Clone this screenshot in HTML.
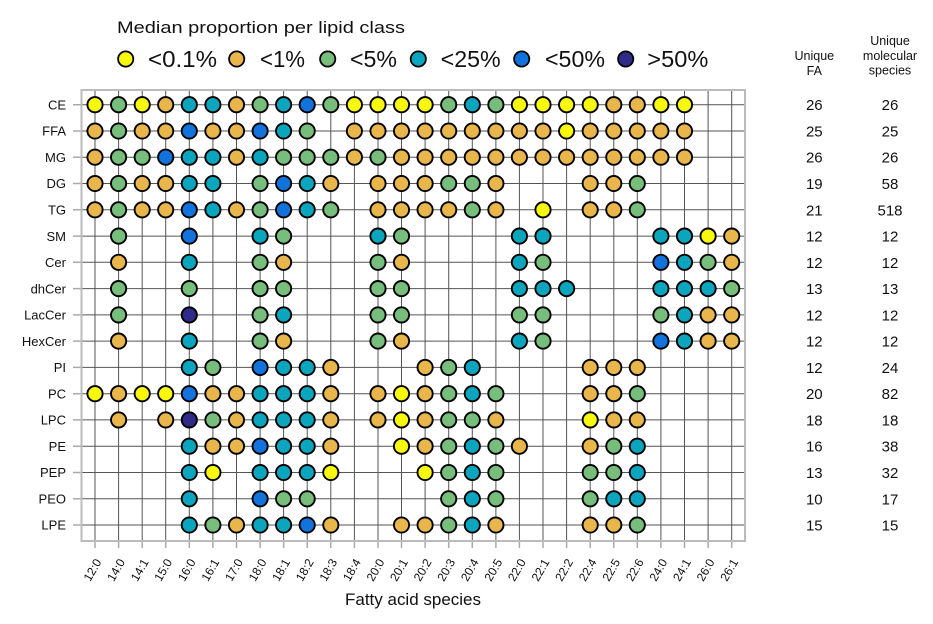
<!DOCTYPE html>
<html><head><meta charset="utf-8"><style>
html,body{margin:0;padding:0;background:#fff;}
svg{display:block;font-family:"Liberation Sans",Arial,sans-serif;}
.Y{fill:#F8F80C}.O{fill:#E8B64B}.G{fill:#77BE7D}.T{fill:#0BA6BE}.B{fill:#1273DC}.N{fill:#302A88}
.d circle{stroke:#000;stroke-width:1.9}
.lg circle{stroke:#000;stroke-width:1.8}
</style></head><body>
<svg width="933" height="624" viewBox="0 0 933 624" xmlns="http://www.w3.org/2000/svg">
<rect width="933" height="624" fill="#fff"/>
<!-- legend -->
<text x="117" y="33" font-size="17" fill="#111" textLength="288" lengthAdjust="spacingAndGlyphs">Median proportion per lipid class</text>
<g class="lg">
<circle cx="125.7" cy="59" r="7.6" class="Y"/>
<circle cx="236.7" cy="59" r="7.6" class="O"/>
<circle cx="327.7" cy="59" r="7.6" class="G"/>
<circle cx="418.3" cy="59" r="7.6" class="T"/>
<circle cx="521.7" cy="59" r="7.6" class="B"/>
<circle cx="625.7" cy="59" r="7.6" class="N"/>
</g>
<g font-size="23" fill="#111">
<text x="148" y="67" textLength="69" lengthAdjust="spacingAndGlyphs">&lt;0.1%</text>
<text x="260" y="67" textLength="45" lengthAdjust="spacingAndGlyphs">&lt;1%</text>
<text x="350" y="67" textLength="47" lengthAdjust="spacingAndGlyphs">&lt;5%</text>
<text x="440.7" y="67" textLength="60" lengthAdjust="spacingAndGlyphs">&lt;25%</text>
<text x="545" y="67" textLength="60" lengthAdjust="spacingAndGlyphs">&lt;50%</text>
<text x="647.3" y="67" textLength="61" lengthAdjust="spacingAndGlyphs">&gt;50%</text>
</g>
<!-- right headers -->
<g font-size="12.5" fill="#111" text-anchor="middle">
<text x="814.3" y="60">Unique</text>
<text x="814.3" y="75">FA</text>
<text x="890" y="45">Unique</text>
<text x="890" y="60">molecular</text>
<text x="890" y="74.5">species</text>
</g>
<!-- grid -->
<path fill="none" stroke="#555" stroke-width="1" d="M95 90V541M118.6 90V541M142.2 90V541M165.7 90V541M189.3 90V541M212.9 90V541M236.5 90V541M260.1 90V541M283.6 90V541M307.2 90V541M330.8 90V541M354.4 90V541M378 90V541M401.5 90V541M425.1 90V541M448.7 90V541M472.3 90V541M495.9 90V541M519.4 90V541M543 90V541M566.6 90V541M590.2 90V541M613.8 90V541M637.3 90V541M660.9 90V541M684.5 90V541M708.1 90V541M731.7 90V541
M81 104.7H745M81 131H745M81 157.2H745M81 183.5H745M81 209.8H745M81 236.1H745M81 262.3H745M81 288.6H745M81 314.9H745M81 341.1H745M81 367.4H745M81 393.7H745M81 419.9H745M81 446.2H745M81 472.5H745M81 498.8H745M81 525H745"/>
<!-- ticks -->
<path fill="none" stroke="#aaa" stroke-width="1.5" d="M95 541V548M118.6 541V548M142.2 541V548M165.7 541V548M189.3 541V548M212.9 541V548M236.5 541V548M260.1 541V548M283.6 541V548M307.2 541V548M330.8 541V548M354.4 541V548M378 541V548M401.5 541V548M425.1 541V548M448.7 541V548M472.3 541V548M495.9 541V548M519.4 541V548M543 541V548M566.6 541V548M590.2 541V548M613.8 541V548M637.3 541V548M660.9 541V548M684.5 541V548M708.1 541V548M731.7 541V548
M73 104.7H81M73 131H81M73 157.2H81M73 183.5H81M73 209.8H81M73 236.1H81M73 262.3H81M73 288.6H81M73 314.9H81M73 341.1H81M73 367.4H81M73 393.7H81M73 419.9H81M73 446.2H81M73 472.5H81M73 498.8H81M73 525H81"/>
<rect x="81.5" y="90" width="663.5" height="451" fill="none" stroke="#bbb" stroke-width="2"/>
<!-- y labels -->
<g font-size="13" fill="#111" text-anchor="end">
<text x="66" y="109.4">CE</text>
<text x="66" y="135.7">FFA</text>
<text x="66" y="161.9">MG</text>
<text x="66" y="188.2">DG</text>
<text x="66" y="214.5">TG</text>
<text x="66" y="240.8">SM</text>
<text x="66" y="267">Cer</text>
<text x="66" y="293.3">dhCer</text>
<text x="66" y="319.6">LacCer</text>
<text x="66" y="345.8">HexCer</text>
<text x="66" y="372.1">PI</text>
<text x="66" y="398.4">PC</text>
<text x="66" y="424.6">LPC</text>
<text x="66" y="450.9">PE</text>
<text x="66" y="477.2">PEP</text>
<text x="66" y="503.5">PEO</text>
<text x="66" y="529.7">LPE</text>
</g>
<!-- right numbers -->
<g font-size="15" fill="#111" text-anchor="middle">
<text x="814.3" y="110.2">26</text><text x="890" y="110.2">26</text>
<text x="814.3" y="136.5">25</text><text x="890" y="136.5">25</text>
<text x="814.3" y="162.7">26</text><text x="890" y="162.7">26</text>
<text x="814.3" y="189">19</text><text x="890" y="189">58</text>
<text x="814.3" y="215.3">21</text><text x="890" y="215.3">518</text>
<text x="814.3" y="241.6">12</text><text x="890" y="241.6">12</text>
<text x="814.3" y="267.8">12</text><text x="890" y="267.8">12</text>
<text x="814.3" y="294.1">13</text><text x="890" y="294.1">13</text>
<text x="814.3" y="320.4">12</text><text x="890" y="320.4">12</text>
<text x="814.3" y="346.6">12</text><text x="890" y="346.6">12</text>
<text x="814.3" y="372.9">12</text><text x="890" y="372.9">24</text>
<text x="814.3" y="399.2">20</text><text x="890" y="399.2">82</text>
<text x="814.3" y="425.4">18</text><text x="890" y="425.4">18</text>
<text x="814.3" y="451.7">16</text><text x="890" y="451.7">38</text>
<text x="814.3" y="478">13</text><text x="890" y="478">32</text>
<text x="814.3" y="504.3">10</text><text x="890" y="504.3">17</text>
<text x="814.3" y="530.5">15</text><text x="890" y="530.5">15</text>
</g>
<!-- x labels -->
<g font-size="12" fill="#111" text-anchor="middle">
<text x="96" y="572" transform="rotate(-60 96 572)">12:0</text>
<text x="119.6" y="572" transform="rotate(-60 119.6 572)">14:0</text>
<text x="143.2" y="572" transform="rotate(-60 143.2 572)">14:1</text>
<text x="166.7" y="572" transform="rotate(-60 166.7 572)">15:0</text>
<text x="190.3" y="572" transform="rotate(-60 190.3 572)">16:0</text>
<text x="213.9" y="572" transform="rotate(-60 213.9 572)">16:1</text>
<text x="237.5" y="572" transform="rotate(-60 237.5 572)">17:0</text>
<text x="261.1" y="572" transform="rotate(-60 261.1 572)">18:0</text>
<text x="284.6" y="572" transform="rotate(-60 284.6 572)">18:1</text>
<text x="308.2" y="572" transform="rotate(-60 308.2 572)">18:2</text>
<text x="331.8" y="572" transform="rotate(-60 331.8 572)">18:3</text>
<text x="355.4" y="572" transform="rotate(-60 355.4 572)">18:4</text>
<text x="379" y="572" transform="rotate(-60 379 572)">20:0</text>
<text x="402.5" y="572" transform="rotate(-60 402.5 572)">20:1</text>
<text x="426.1" y="572" transform="rotate(-60 426.1 572)">20:2</text>
<text x="449.7" y="572" transform="rotate(-60 449.7 572)">20:3</text>
<text x="473.3" y="572" transform="rotate(-60 473.3 572)">20:4</text>
<text x="496.9" y="572" transform="rotate(-60 496.9 572)">20:5</text>
<text x="520.4" y="572" transform="rotate(-60 520.4 572)">22:0</text>
<text x="544" y="572" transform="rotate(-60 544 572)">22:1</text>
<text x="567.6" y="572" transform="rotate(-60 567.6 572)">22:2</text>
<text x="591.2" y="572" transform="rotate(-60 591.2 572)">22:4</text>
<text x="614.8" y="572" transform="rotate(-60 614.8 572)">22:5</text>
<text x="638.3" y="572" transform="rotate(-60 638.3 572)">22:6</text>
<text x="661.9" y="572" transform="rotate(-60 661.9 572)">24:0</text>
<text x="685.5" y="572" transform="rotate(-60 685.5 572)">24:1</text>
<text x="709.1" y="572" transform="rotate(-60 709.1 572)">26:0</text>
<text x="732.7" y="572" transform="rotate(-60 732.7 572)">26:1</text>
</g>
<text x="413" y="605" font-size="16.5" fill="#111" text-anchor="middle" textLength="136" lengthAdjust="spacingAndGlyphs">Fatty acid species</text>
<!-- dots -->
<g class="d">
<g transform="translate(0,104.7)">
<circle cx="95" r="7.6" class="Y"/><circle cx="118.6" r="7.6" class="G"/><circle cx="142.2" r="7.6" class="Y"/><circle cx="165.7" r="7.6" class="O"/><circle cx="189.3" r="7.6" class="T"/><circle cx="212.9" r="7.6" class="T"/><circle cx="236.5" r="7.6" class="O"/><circle cx="260.1" r="7.6" class="G"/><circle cx="283.6" r="7.6" class="T"/><circle cx="307.2" r="7.6" class="B"/><circle cx="330.8" r="7.6" class="G"/><circle cx="354.4" r="7.6" class="Y"/><circle cx="378" r="7.6" class="Y"/><circle cx="401.5" r="7.6" class="Y"/><circle cx="425.1" r="7.6" class="Y"/><circle cx="448.7" r="7.6" class="G"/><circle cx="472.3" r="7.6" class="T"/><circle cx="495.9" r="7.6" class="G"/><circle cx="519.4" r="7.6" class="Y"/><circle cx="543" r="7.6" class="Y"/><circle cx="566.6" r="7.6" class="Y"/><circle cx="590.2" r="7.6" class="Y"/><circle cx="613.8" r="7.6" class="O"/><circle cx="637.3" r="7.6" class="O"/><circle cx="660.9" r="7.6" class="Y"/><circle cx="684.5" r="7.6" class="Y"/>
</g>
<g transform="translate(0,131)">
<circle cx="95" r="7.6" class="O"/><circle cx="118.6" r="7.6" class="G"/><circle cx="142.2" r="7.6" class="O"/><circle cx="165.7" r="7.6" class="O"/><circle cx="189.3" r="7.6" class="B"/><circle cx="212.9" r="7.6" class="O"/><circle cx="236.5" r="7.6" class="O"/><circle cx="260.1" r="7.6" class="B"/><circle cx="283.6" r="7.6" class="T"/><circle cx="307.2" r="7.6" class="G"/><circle cx="354.4" r="7.6" class="O"/><circle cx="378" r="7.6" class="O"/><circle cx="401.5" r="7.6" class="O"/><circle cx="425.1" r="7.6" class="O"/><circle cx="448.7" r="7.6" class="O"/><circle cx="472.3" r="7.6" class="O"/><circle cx="495.9" r="7.6" class="O"/><circle cx="519.4" r="7.6" class="O"/><circle cx="543" r="7.6" class="O"/><circle cx="566.6" r="7.6" class="Y"/><circle cx="590.2" r="7.6" class="O"/><circle cx="613.8" r="7.6" class="O"/><circle cx="637.3" r="7.6" class="O"/><circle cx="660.9" r="7.6" class="O"/><circle cx="684.5" r="7.6" class="O"/>
</g>
<g transform="translate(0,157.2)">
<circle cx="95" r="7.6" class="O"/><circle cx="118.6" r="7.6" class="G"/><circle cx="142.2" r="7.6" class="G"/><circle cx="165.7" r="7.6" class="B"/><circle cx="189.3" r="7.6" class="T"/><circle cx="212.9" r="7.6" class="T"/><circle cx="236.5" r="7.6" class="O"/><circle cx="260.1" r="7.6" class="T"/><circle cx="283.6" r="7.6" class="G"/><circle cx="307.2" r="7.6" class="G"/><circle cx="330.8" r="7.6" class="G"/><circle cx="354.4" r="7.6" class="O"/><circle cx="378" r="7.6" class="G"/><circle cx="401.5" r="7.6" class="O"/><circle cx="425.1" r="7.6" class="O"/><circle cx="448.7" r="7.6" class="O"/><circle cx="472.3" r="7.6" class="O"/><circle cx="495.9" r="7.6" class="O"/><circle cx="519.4" r="7.6" class="O"/><circle cx="543" r="7.6" class="O"/><circle cx="566.6" r="7.6" class="O"/><circle cx="590.2" r="7.6" class="O"/><circle cx="613.8" r="7.6" class="O"/><circle cx="637.3" r="7.6" class="O"/><circle cx="660.9" r="7.6" class="O"/><circle cx="684.5" r="7.6" class="O"/>
</g>
<g transform="translate(0,183.5)">
<circle cx="95" r="7.6" class="O"/><circle cx="118.6" r="7.6" class="G"/><circle cx="142.2" r="7.6" class="O"/><circle cx="165.7" r="7.6" class="O"/><circle cx="189.3" r="7.6" class="T"/><circle cx="212.9" r="7.6" class="T"/><circle cx="260.1" r="7.6" class="G"/><circle cx="283.6" r="7.6" class="B"/><circle cx="307.2" r="7.6" class="T"/><circle cx="330.8" r="7.6" class="O"/><circle cx="378" r="7.6" class="O"/><circle cx="401.5" r="7.6" class="O"/><circle cx="425.1" r="7.6" class="O"/><circle cx="448.7" r="7.6" class="G"/><circle cx="472.3" r="7.6" class="G"/><circle cx="495.9" r="7.6" class="O"/><circle cx="590.2" r="7.6" class="O"/><circle cx="613.8" r="7.6" class="O"/><circle cx="637.3" r="7.6" class="G"/>
</g>
<g transform="translate(0,209.8)">
<circle cx="95" r="7.6" class="O"/><circle cx="118.6" r="7.6" class="G"/><circle cx="142.2" r="7.6" class="O"/><circle cx="165.7" r="7.6" class="O"/><circle cx="189.3" r="7.6" class="B"/><circle cx="212.9" r="7.6" class="T"/><circle cx="236.5" r="7.6" class="O"/><circle cx="260.1" r="7.6" class="G"/><circle cx="283.6" r="7.6" class="B"/><circle cx="307.2" r="7.6" class="T"/><circle cx="330.8" r="7.6" class="G"/><circle cx="378" r="7.6" class="O"/><circle cx="401.5" r="7.6" class="O"/><circle cx="425.1" r="7.6" class="O"/><circle cx="448.7" r="7.6" class="O"/><circle cx="472.3" r="7.6" class="G"/><circle cx="495.9" r="7.6" class="O"/><circle cx="543" r="7.6" class="Y"/><circle cx="590.2" r="7.6" class="O"/><circle cx="613.8" r="7.6" class="O"/><circle cx="637.3" r="7.6" class="G"/>
</g>
<g transform="translate(0,236.1)">
<circle cx="118.6" r="7.6" class="G"/><circle cx="189.3" r="7.6" class="B"/><circle cx="260.1" r="7.6" class="T"/><circle cx="283.6" r="7.6" class="G"/><circle cx="378" r="7.6" class="T"/><circle cx="401.5" r="7.6" class="G"/><circle cx="519.4" r="7.6" class="T"/><circle cx="543" r="7.6" class="T"/><circle cx="660.9" r="7.6" class="T"/><circle cx="684.5" r="7.6" class="T"/><circle cx="708.1" r="7.6" class="Y"/><circle cx="731.7" r="7.6" class="O"/>
</g>
<g transform="translate(0,262.3)">
<circle cx="118.6" r="7.6" class="O"/><circle cx="189.3" r="7.6" class="T"/><circle cx="260.1" r="7.6" class="G"/><circle cx="283.6" r="7.6" class="O"/><circle cx="378" r="7.6" class="G"/><circle cx="401.5" r="7.6" class="O"/><circle cx="519.4" r="7.6" class="T"/><circle cx="543" r="7.6" class="G"/><circle cx="660.9" r="7.6" class="B"/><circle cx="684.5" r="7.6" class="T"/><circle cx="708.1" r="7.6" class="G"/><circle cx="731.7" r="7.6" class="O"/>
</g>
<g transform="translate(0,288.6)">
<circle cx="118.6" r="7.6" class="G"/><circle cx="189.3" r="7.6" class="G"/><circle cx="260.1" r="7.6" class="G"/><circle cx="283.6" r="7.6" class="G"/><circle cx="378" r="7.6" class="G"/><circle cx="401.5" r="7.6" class="G"/><circle cx="519.4" r="7.6" class="T"/><circle cx="543" r="7.6" class="T"/><circle cx="566.6" r="7.6" class="T"/><circle cx="660.9" r="7.6" class="T"/><circle cx="684.5" r="7.6" class="T"/><circle cx="708.1" r="7.6" class="T"/><circle cx="731.7" r="7.6" class="G"/>
</g>
<g transform="translate(0,314.9)">
<circle cx="118.6" r="7.6" class="G"/><circle cx="189.3" r="7.6" class="N"/><circle cx="260.1" r="7.6" class="G"/><circle cx="283.6" r="7.6" class="T"/><circle cx="378" r="7.6" class="G"/><circle cx="401.5" r="7.6" class="G"/><circle cx="519.4" r="7.6" class="G"/><circle cx="543" r="7.6" class="G"/><circle cx="660.9" r="7.6" class="G"/><circle cx="684.5" r="7.6" class="T"/><circle cx="708.1" r="7.6" class="O"/><circle cx="731.7" r="7.6" class="O"/>
</g>
<g transform="translate(0,341.1)">
<circle cx="118.6" r="7.6" class="O"/><circle cx="189.3" r="7.6" class="T"/><circle cx="260.1" r="7.6" class="G"/><circle cx="283.6" r="7.6" class="O"/><circle cx="378" r="7.6" class="G"/><circle cx="401.5" r="7.6" class="O"/><circle cx="519.4" r="7.6" class="T"/><circle cx="543" r="7.6" class="G"/><circle cx="660.9" r="7.6" class="B"/><circle cx="684.5" r="7.6" class="T"/><circle cx="708.1" r="7.6" class="O"/><circle cx="731.7" r="7.6" class="O"/>
</g>
<g transform="translate(0,367.4)">
<circle cx="189.3" r="7.6" class="T"/><circle cx="212.9" r="7.6" class="G"/><circle cx="260.1" r="7.6" class="B"/><circle cx="283.6" r="7.6" class="T"/><circle cx="307.2" r="7.6" class="T"/><circle cx="330.8" r="7.6" class="O"/><circle cx="425.1" r="7.6" class="O"/><circle cx="448.7" r="7.6" class="G"/><circle cx="472.3" r="7.6" class="T"/><circle cx="590.2" r="7.6" class="O"/><circle cx="613.8" r="7.6" class="O"/><circle cx="637.3" r="7.6" class="O"/>
</g>
<g transform="translate(0,393.7)">
<circle cx="95" r="7.6" class="Y"/><circle cx="118.6" r="7.6" class="O"/><circle cx="142.2" r="7.6" class="Y"/><circle cx="165.7" r="7.6" class="Y"/><circle cx="189.3" r="7.6" class="B"/><circle cx="212.9" r="7.6" class="O"/><circle cx="236.5" r="7.6" class="O"/><circle cx="260.1" r="7.6" class="T"/><circle cx="283.6" r="7.6" class="T"/><circle cx="307.2" r="7.6" class="T"/><circle cx="330.8" r="7.6" class="O"/><circle cx="378" r="7.6" class="O"/><circle cx="401.5" r="7.6" class="Y"/><circle cx="425.1" r="7.6" class="O"/><circle cx="448.7" r="7.6" class="G"/><circle cx="472.3" r="7.6" class="T"/><circle cx="495.9" r="7.6" class="G"/><circle cx="590.2" r="7.6" class="O"/><circle cx="613.8" r="7.6" class="O"/><circle cx="637.3" r="7.6" class="G"/>
</g>
<g transform="translate(0,419.9)">
<circle cx="118.6" r="7.6" class="O"/><circle cx="165.7" r="7.6" class="O"/><circle cx="189.3" r="7.6" class="N"/><circle cx="212.9" r="7.6" class="G"/><circle cx="236.5" r="7.6" class="O"/><circle cx="260.1" r="7.6" class="T"/><circle cx="283.6" r="7.6" class="T"/><circle cx="307.2" r="7.6" class="T"/><circle cx="330.8" r="7.6" class="O"/><circle cx="378" r="7.6" class="O"/><circle cx="401.5" r="7.6" class="Y"/><circle cx="425.1" r="7.6" class="O"/><circle cx="448.7" r="7.6" class="G"/><circle cx="472.3" r="7.6" class="G"/><circle cx="495.9" r="7.6" class="O"/><circle cx="590.2" r="7.6" class="Y"/><circle cx="613.8" r="7.6" class="O"/><circle cx="637.3" r="7.6" class="O"/>
</g>
<g transform="translate(0,446.2)">
<circle cx="189.3" r="7.6" class="T"/><circle cx="212.9" r="7.6" class="O"/><circle cx="236.5" r="7.6" class="O"/><circle cx="260.1" r="7.6" class="B"/><circle cx="283.6" r="7.6" class="T"/><circle cx="307.2" r="7.6" class="T"/><circle cx="330.8" r="7.6" class="O"/><circle cx="401.5" r="7.6" class="Y"/><circle cx="425.1" r="7.6" class="O"/><circle cx="448.7" r="7.6" class="G"/><circle cx="472.3" r="7.6" class="T"/><circle cx="495.9" r="7.6" class="G"/><circle cx="519.4" r="7.6" class="O"/><circle cx="590.2" r="7.6" class="O"/><circle cx="613.8" r="7.6" class="G"/><circle cx="637.3" r="7.6" class="T"/>
</g>
<g transform="translate(0,472.5)">
<circle cx="189.3" r="7.6" class="T"/><circle cx="212.9" r="7.6" class="Y"/><circle cx="260.1" r="7.6" class="T"/><circle cx="283.6" r="7.6" class="T"/><circle cx="307.2" r="7.6" class="T"/><circle cx="330.8" r="7.6" class="Y"/><circle cx="425.1" r="7.6" class="Y"/><circle cx="448.7" r="7.6" class="G"/><circle cx="472.3" r="7.6" class="T"/><circle cx="495.9" r="7.6" class="G"/><circle cx="590.2" r="7.6" class="G"/><circle cx="613.8" r="7.6" class="G"/><circle cx="637.3" r="7.6" class="T"/>
</g>
<g transform="translate(0,498.8)">
<circle cx="189.3" r="7.6" class="T"/><circle cx="260.1" r="7.6" class="B"/><circle cx="283.6" r="7.6" class="G"/><circle cx="307.2" r="7.6" class="G"/><circle cx="448.7" r="7.6" class="G"/><circle cx="472.3" r="7.6" class="T"/><circle cx="495.9" r="7.6" class="G"/><circle cx="590.2" r="7.6" class="G"/><circle cx="613.8" r="7.6" class="T"/><circle cx="637.3" r="7.6" class="T"/>
</g>
<g transform="translate(0,525)">
<circle cx="189.3" r="7.6" class="T"/><circle cx="212.9" r="7.6" class="G"/><circle cx="236.5" r="7.6" class="O"/><circle cx="260.1" r="7.6" class="T"/><circle cx="283.6" r="7.6" class="T"/><circle cx="307.2" r="7.6" class="B"/><circle cx="330.8" r="7.6" class="O"/><circle cx="401.5" r="7.6" class="O"/><circle cx="425.1" r="7.6" class="O"/><circle cx="448.7" r="7.6" class="G"/><circle cx="472.3" r="7.6" class="T"/><circle cx="495.9" r="7.6" class="O"/><circle cx="590.2" r="7.6" class="O"/><circle cx="613.8" r="7.6" class="O"/><circle cx="637.3" r="7.6" class="G"/>
</g>
</g>
</svg>
</body></html>
